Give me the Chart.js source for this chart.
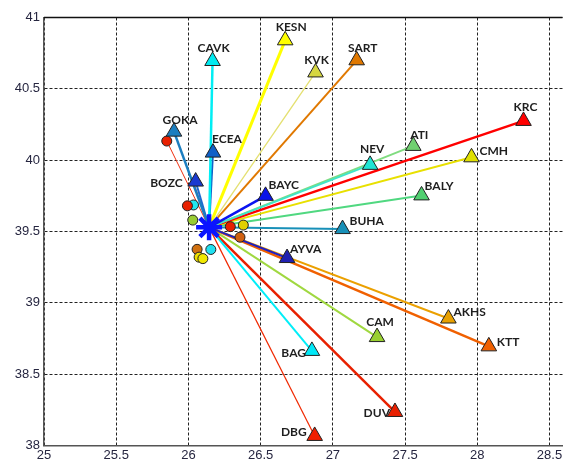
<!DOCTYPE html>
<html>
<head>
<meta charset="utf-8">
<script src="https://cdn.jsdelivr.net/npm/chart.js@4"></script>
<style>
  body { margin: 0; background: #fff; overflow: hidden; }
  #wrap { width: 565px; height: 463px; overflow: hidden; }
</style>
</head>
<body>
<div id="wrap"><canvas id="stations" width="580" height="463"></canvas></div>
<script>

//
// DATA
//
var names = ['GOKA', 'CAVK', 'KESN', 'KVK', 'SART', 'ECEA', 'BOZC', 'BAYC', 'NEV', 'ATI', 'KRC',
             'CMH', 'BALY', 'BUHA', 'AYVA', 'AKHS', 'KTT', 'CAM', 'BAG', 'DUV', 'DBG'];
var lon = [25.90, 26.167, 26.67, 26.88, 27.165, 26.17, 26.05, 26.534, 27.258, 27.557, 28.32,
           27.96, 27.614, 27.067, 26.683, 27.80, 28.08, 27.306, 26.855, 27.43, 26.874];
var lat = [40.20, 40.695, 40.84, 40.615, 40.70, 40.053, 39.85, 39.75, 39.967, 40.10, 40.275,
           40.02, 39.753, 39.517, 39.314, 38.89, 38.695, 38.76, 38.663, 38.235, 38.067];

// epicentre
var centerLon = 26.143;
var centerLat = 39.529;

// small circles round the epicentre
var circLon = [25.85, 26.035, 25.993, 26.03, 26.29, 26.38, 26.357, 26.06, 26.074, 26.10, 26.155];
var circLat = [40.134, 39.686, 39.68, 39.58, 39.534, 39.545, 39.46, 39.375, 39.32, 39.31, 39.374];

// thin extra links to the epicentre
var linkLon = [25.85, 26.03];
var linkLat = [40.134, 39.86];

var xTicks = [25, 25.5, 26, 26.5, 27, 27.5, 28, 28.5];
var yTicks = [38, 38.5, 39, 39.5, 40, 40.5, 41];

//
// STYLES
//
var triColors = ['#1c7ec0', '#00eaf0', '#ffff00', '#d6d640', '#e07800', '#1060c8', '#1a3ad0', '#0a14e8',
                 '#20e4d4', '#70d070', '#ff0000', '#e0e000', '#50d070', '#1890b8', '#2020b0',
                 '#e8a000', '#f06000', '#99d030', '#00e8f8', '#e82000', '#f02000'];
var lineColors = ['#1c7ec0', '#00eef4', '#ffff00', '#e4e070', '#e07800', '#1060c8', '#1e6ad0', '#0a14f0',
                  '#40e4c8', '#80dc80', '#ff0000', '#e8e000', '#50d880', '#1890b8', '#2020c0',
                  '#eba000', '#f06000', '#a0d840', '#00eef8', '#e82000', '#f02800'];
var lineWidths = [2.5, 2.5, 3, 1.3, 2, 2, 2, 2.5, 2, 2, 2.5, 2, 2, 2, 2, 2, 2.5, 2, 2, 2.5, 1.2];
var circColors = ['#e82000', '#20e8f0', '#e82000', '#99cc33', '#e82000', '#e0d000', '#d06010',
                  '#d07010', '#f0e000', '#f0e800', '#20e0f0'];

// label offsets in px from the triangle, and which side the text sits
var labelPlace = [
  [6, -12, 'center'], [1, -13, 'center'], [6, -13, 'center'], [1, -12, 'center'], [6, -12, 'center'],
  [14, -13, 'center'], [-13, 2, 'right'], [3, -11, 'left'], [2, -16, 'center'], [6, -11, 'center'],
  [2, -14, 'center'], [8, -6, 'left'], [3, -9, 'left'], [7, -8, 'left'], [3, -9, 'left'],
  [5, -6, 'left'], [8, -4, 'left'], [3, -15, 'center'], [-6, 2, 'right'], [-5, 1, 'right'], [-8, -4, 'right']
];

//
// DATASETS
//
var datasets = [];

datasets.push({
  type: 'scatter',
  data: [{x: centerLon, y: centerLat}],
  pointStyle: 'star',
  pointRadius: 13,
  borderColor: '#0a14ff',
  borderWidth: 4.5,
  order: 0
});

datasets.push({
  type: 'scatter',
  data: lon.map(function (v, i) { return {x: v, y: lat[i]}; }),
  pointStyle: 'triangle',
  pointRadius: 9,
  backgroundColor: triColors,
  borderColor: '#222',
  borderWidth: 1,
  order: 1
});

datasets.push({
  type: 'scatter',
  data: circLon.map(function (v, i) { return {x: v, y: circLat[i]}; }),
  pointStyle: 'circle',
  pointRadius: 5,
  backgroundColor: circColors,
  borderColor: '#222',
  borderWidth: 1,
  order: 2
});

// one line for every station
for (var i = 0; i < names.length; i++) {
  datasets.push({
    type: 'line',
    data: [{x: centerLon, y: centerLat}, {x: lon[i], y: lat[i]}],
    borderColor: lineColors[i],
    borderWidth: lineWidths[i],
    pointRadius: 0,
    fill: false,
    order: 3
  });
}
for (var j = 0; j < linkLon.length; j++) {
  datasets.push({
    type: 'line',
    data: [{x: centerLon, y: centerLat}, {x: linkLon[j], y: linkLat[j]}],
    borderColor: '#f03010',
    borderWidth: 1,
    pointRadius: 0,
    fill: false,
    order: 3
  });
}

//
// PLUGINS
//
var stationLabels = {
  id: 'stationLabels',
  afterDatasetsDraw: function (chart) {
    var ctx = chart.ctx;
    var xs = chart.scales.x, ys = chart.scales.y;
    ctx.save();
    ctx.font = 'bold 12px Lato, "Open Sans", sans-serif';
    ctx.fillStyle = '#1e1e1e';
    ctx.textBaseline = 'middle';
    for (var i = 0; i < names.length; i++) {
      var p = labelPlace[i];
      ctx.textAlign = p[2];
      ctx.fillText(names[i], xs.getPixelForValue(lon[i]) + p[0], ys.getPixelForValue(lat[i]) + p[1]);
    }
    ctx.restore();
  }
};

var topBorder = {
  id: 'topBorder',
  afterDraw: function (chart) {
    var a = chart.chartArea, ctx = chart.ctx;
    ctx.save();
    ctx.strokeStyle = '#111';
    ctx.lineWidth = 1.5;
    ctx.beginPath();
    ctx.moveTo(a.left, a.top);
    ctx.lineTo(a.right, a.top);
    ctx.stroke();
    ctx.restore();
  }
};

var whiteBg = {
  id: 'whiteBg',
  beforeDraw: function (chart) {
    var ctx = chart.ctx;
    ctx.save();
    ctx.fillStyle = '#fff';
    ctx.fillRect(0, 0, chart.width, chart.height);
    ctx.restore();
  }
};

//
// CHART
//
var tickFont = {family: '"Liberation Sans", Arial, sans-serif', size: 13};
var plainNum = function (v) { return String(v); };

var ctx = document.getElementById('stations').getContext('2d');
var chart = new Chart(ctx, {
  type: 'scatter',
  data: { datasets: datasets },
  plugins: [whiteBg, stationLabels, topBorder],
  options: {
    responsive: false,
    animation: false,
    layout: { padding: { top: 12, right: 0, left: 0, bottom: 0 } },
    plugins: {
      legend: { display: false },
      tooltip: { enabled: false }
    },
    scales: {
      x: {
        type: 'linear',
        min: 25,
        max: 28.59,
        afterBuildTicks: function (s) { s.ticks = xTicks.map(function (v) { return {value: v}; }); },
        afterFit: function (s) { s.height = 17; },
        grid: { color: '#222', lineWidth: 1, drawTicks: false },
        border: { display: true, color: '#555', width: 1.5, dash: [3, 2] },
        ticks: { color: '#262640', font: tickFont, padding: 2, maxRotation: 0, callback: plainNum }
      },
      y: {
        type: 'linear',
        min: 38,
        max: 41,
        afterBuildTicks: function (s) { s.ticks = yTicks.map(function (v) { return {value: v}; }); },
        afterFit: function (s) { s.width = 44; s.paddingTop = 0; s.paddingBottom = 0; },
        grid: { color: '#222', lineWidth: 1, drawTicks: false },
        border: { display: true, color: '#555', width: 1.5, dash: [3, 2] },
        ticks: { color: '#262640', font: tickFont, padding: 4, callback: plainNum }
      }
    }
  }
});

</script>
</body>
</html>
